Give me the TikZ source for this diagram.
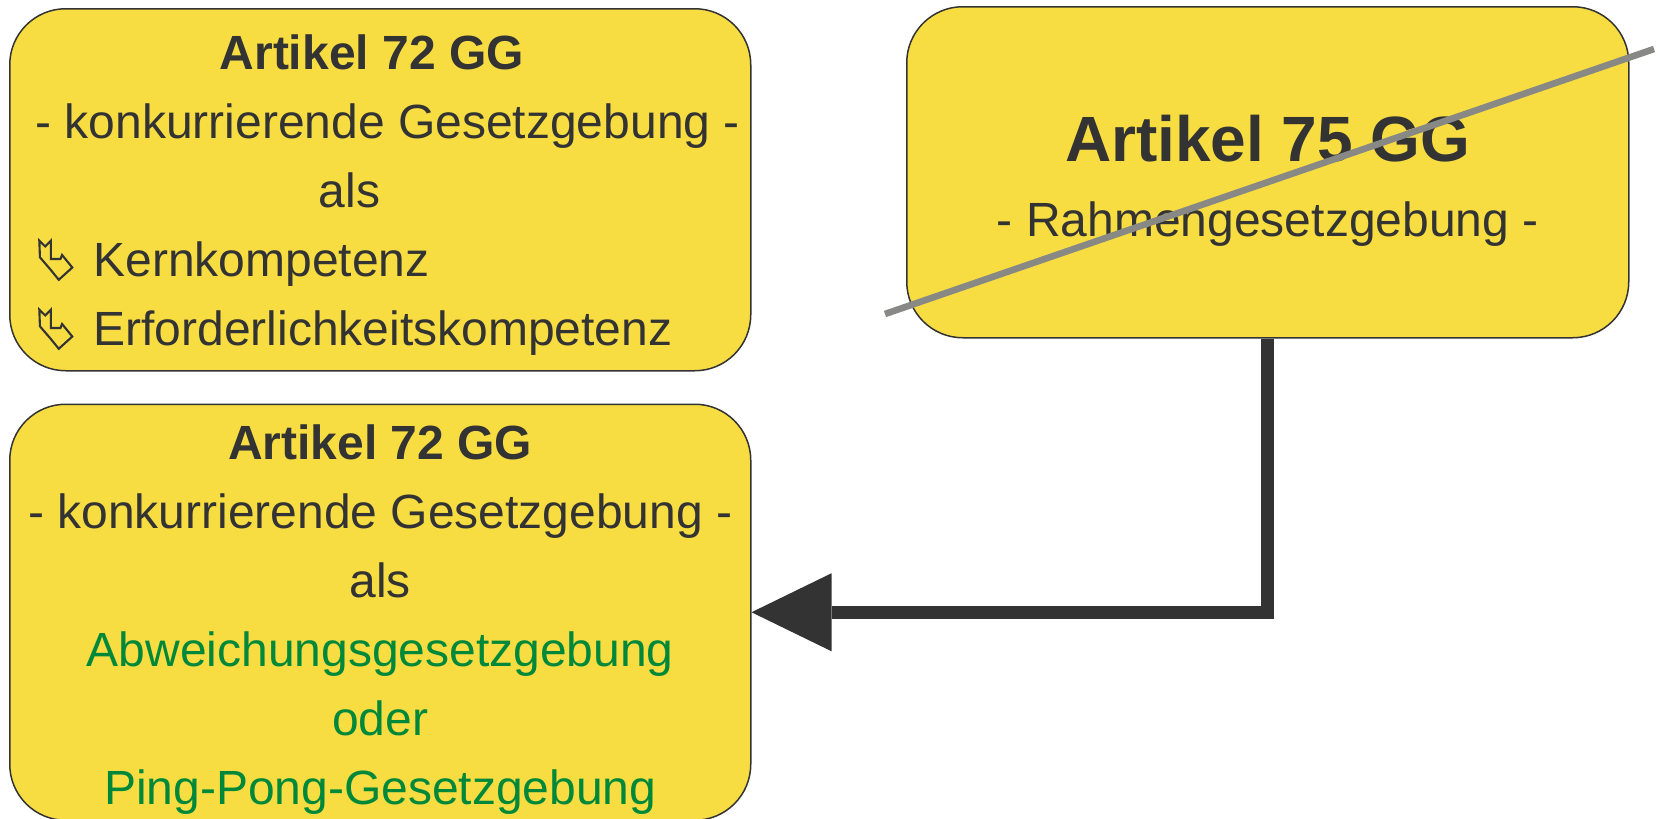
\documentclass[tikz,border=0pt]{standalone}
\usepackage{fontspec}
\setmainfont{Liberation Sans}
\usetikzlibrary{arrows.meta,positioning}

\definecolor{kastengelb}{RGB}{247,221,66}
\definecolor{dunkelgrau}{RGB}{51,51,51}
\definecolor{strichgrau}{RGB}{136,137,132}
\definecolor{gruen}{RGB}{0,136,58}

% hohler Hakenpfeil vor den Aufzaehlungszeilen
\newcommand{\pfeil}{\tikz[baseline=1.5pt,x=0.165pt,y=0.17pt]\draw[draw=dunkelgrau,fill=none,line width=1.05pt,sharp corners,line join=miter]
	(0,115) -- (2,66) -- (33,31) -- (59,0) -- (100,36) -- (69,73) -- (64,61) -- (35,61) -- (35,115) -- (18,98) -- cycle;}
\newcommand{\pfeilzeile}[1]{\makebox[342pt][l]{\pfeil\hspace{10pt}#1}}

\begin{document}
\begin{tikzpicture}[
				x=0.5pt,y=-0.5pt,
				kasten/.style={
					rectangle,
					rounded corners=28pt,
					draw=dunkelgrau,
					line width=0.75pt,
					fill=kastengelb,
					text=dunkelgrau,
					align=center,
					inner sep=0pt,
					font=\fontsize{24pt}{34.5pt}\selectfont
				},
				verbindung/.style={-{Triangle[length=40pt,width=39pt,line width=0pt,fill=dunkelgrau]},line width=6.5pt,draw=dunkelgrau},
				streichung/.style={line width=3.3pt,draw=strichgrau}
				]
				\useasboundingbox (0,0) rectangle (1662,819);
				\node[kasten, anchor=north west, minimum width=370.5pt, minimum height=181pt] (art72a) at (9,8)
					{\rule{0pt}{23pt}\textbf{Artikel 72 GG}\makebox[8.5pt]{}\\\makebox[7.4pt]{}- konkurrierende Gesetzgebung -\\als\makebox[30.8pt]{}\\\pfeilzeile{Kernkompetenz}\\\pfeilzeile{Erforderlichkeitskompetenz}};
				\node[kasten, below=16pt of art72a, minimum width=370.5pt, minimum height=208pt] (art72b)
					{\rule{0pt}{25pt}\textbf{Artikel 72 GG}\\- konkurrierende Gesetzgebung -\\als\\\textcolor{gruen}{Abweichungsgesetzgebung}\\\textcolor{gruen}{oder}\\\textcolor{gruen}{Ping-Pong-Gesetzgebung}};
				\node[kasten, anchor=north west, minimum width=361pt, minimum height=165.5pt, font=\fontsize{24pt}{37.5pt}\selectfont] (art75) at (906,6)
					{\rule{0pt}{31.5pt}{\fontsize{32pt}{37.5pt}\selectfont\bfseries Artikel 75 GG}\\- Rahmengesetzgebung -};
				
				\coordinate (strich-a) at (885,314);
				\coordinate (strich-b) at (1654,49);
				\draw[streichung] (strich-a) -- (strich-b);
				\draw[verbindung] (art75.south) |- (art72b.east);
		\end{tikzpicture}
\end{document}
